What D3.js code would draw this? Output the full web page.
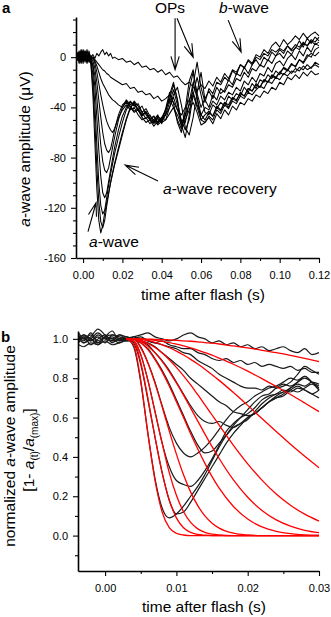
<!DOCTYPE html>
<html>
<head>
<meta charset="utf-8">
<script src="https://cdn.jsdelivr.net/npm/d3@7"></script>
<style>
  body { margin: 0; background: #fff; }
  svg { display: block; font-family: "Liberation Sans", Arial, sans-serif; }
</style>
</head>
<body>
<div id="chart"></div>
<script>
// ---------- panel a : raw a-wave traces (µV) ----------
const timeA = [-0.003, -0.002, -0.001, 0, 0.001, 0.002, 0.003, 0.004, 0.005, 0.006, 0.007, 0.008, 0.009, 0.010, 0.011, 0.012, 0.013, 0.014, 0.015, 0.016,
  0.018, 0.020, 0.022, 0.024, 0.026, 0.028, 0.030, 0.032, 0.034, 0.036, 0.038, 0.040, 0.042, 0.044, 0.046, 0.048, 0.050, 0.052, 0.054, 0.056,
  0.058, 0.060, 0.062, 0.064, 0.066, 0.068, 0.070, 0.072, 0.074, 0.076, 0.078, 0.080, 0.082, 0.084, 0.086, 0.088, 0.090, 0.092, 0.094, 0.096,
  0.098, 0.100, 0.102, 0.104, 0.106, 0.108, 0.110, 0.112, 0.114, 0.116, 0.118, 0.120];

const waveA1 = [3, -5, 6, -3, 4, -2, 2, -6, -30, -68, -105, -130, -140, -134, -124, -116, -108, -100, -93, -86,
  -74, -62, -50, -41, -35, -39, -44, -41, -47, -50, -46, -53, -44, -30,
  -20, -34, -55, -47, -26, -12, -29, -40, -33,
  -27, -33, -24, -29, -26, -18, -22, -13, -15, -8, -13, -6, -2, -7, 0, -3, 4, 1, 6, 3, 9, 5, 7, 13, 8, 15, 11, 16, 13];
const waveA2 = [-2, 4, -1, 5, -4, 1, -3, -5, -22, -52, -88, -115, -131, -136, -130, -119, -109, -100, -92, -85,
  -72, -60, -49, -40, -37, -42, -46, -43, -49, -52, -47, -51, -41, -28,
  -37, -52, -60, -41, -19, -10, -32, -46, -40,
  -42, -35, -38, -31, -34, -28, -30, -24, -27, -19, -22, -16, -20, -13, -15, -8, -12, -5, -3, -7, -1, 2, -2, 5, 1, 8, 4, 11, 9];
const waveA3 = [4, -2, 3, -5, 2, -3, 5, -2, -14, -38, -70, -100, -118, -125, -122, -112, -102, -93, -85, -77,
  -64, -52, -42, -36, -39, -37, -44, -49, -46, -52, -48, -50, -42, -33,
  -22, -34, -54, -64, -46, -22, -4, -24, -36,
  -25, -29, -20, -22, -16, -19, -11, -14, -6, -9, -2, -5, 2, 0, 6, 3, 9, 12, 8, 14, 10, 13, 17, 14, 19, 15, 18, 20, 17];
const waveA4 = [-1, 5, -4, 2, -3, 6, -2, 1, -8, -24, -48, -74, -95, -108, -112, -108, -99, -90, -81, -72,
  -58, -47, -40, -35, -38, -42, -39, -46, -50, -47, -53, -49, -46, -36,
  -26, -38, -50, -58, -50, -30, -16, -30, -44,
  -46, -38, -41, -36, -39, -31, -34, -29, -31, -24, -28, -21, -25, -18, -20, -14, -17, -11, -14, -8, -10, -5, -8, -2, -5, 0, 3, 1, 4];
const waveA5 = [2, -4, 5, -1, 3, -5, 1, -3, -6, -15, -32, -52, -70, -83, -90, -92, -88, -80, -72, -64,
  -50, -40, -34, -38, -36, -42, -47, -44, -50, -53, -49, -52, -50, -40,
  -30, -24, -38, -56, -62, -48, -28, -12, -34,
  -40, -30, -34, -25, -28, -22, -24, -17, -19, -12, -16, -9, -11, -6, -8, -2, -5, 1, 3, -1, 5, 2, 8, 6, 11, 9, 14, 12, 16];
const waveA6 = [-3, 2, -5, 4, -2, 3, -4, 0, -3, -9, -20, -34, -48, -60, -69, -74, -76, -73, -66, -58,
  -46, -38, -35, -40, -44, -42, -48, -52, -50, -55, -51, -48, -42, -34,
  -40, -50, -57, -52, -36, -20, -33, -50, -52,
  -47, -50, -42, -45, -38, -41, -35, -37, -31, -33, -28, -30, -26, -23, -25, -19, -21, -16, -18, -13, -15, -11, -12, -8, -10, -6, -9, -4, -6];
const waveA7 = [1, -3, 4, -2, 5, -1, 2, -2, 0, -5, -12, -21, -30, -38, -45, -51, -55, -58, -60, -57,
  -48, -42, -38, -42, -40, -46, -50, -48, -53, -50, -54, -51, -46, -40,
  -32, -42, -52, -46, -38, -30, -40, -50, -46,
  -43, -47, -39, -42, -36, -38, -32, -34, -29, -31, -25, -27, -22, -24, -18, -20, -14, -16, -12, -9, -11, -6, -7, -2, -4, 2, 0, 6, 8];
const waveA8 = [-2, 3, -4, 6, -1, 2, -3, 1, -1, -3, -7, -12, -17, -21, -24, -27, -30, -32, -34, -35,
  -38, -40, -36, -39, -43, -41, -46, -44, -49, -47, -52, -48, -50, -45,
  -40, -46, -54, -50, -42, -36, -44, -54, -52,
  -48, -53, -45, -49, -42, -46, -39, -42, -36, -38, -33, -35, -30, -32, -27, -29, -24, -26, -20, -22, -16, -18, -14, -17, -12, -15, -11, -14, -13];
const waveA9 = [3, -2, 5, -3, 2, -4, 1, -1, 0, -2, -4, -6, -8, -10, -11, -13, -14, -16, -17, -18,
  -20, -22, -21, -25, -24, -28, -27, -30, -29, -33, -31, -35, -33, -30,
  -36, -42, -46, -40, -34, -28, -38, -46, -50,
  -44, -47, -40, -43, -36, -40, -33, -35, -28, -31, -25, -27, -21, -24, -18, -20, -15, -17, -12, -14, -10, -13, -9, -11, -7, -10, -8, -6, -8];
const waveA10 = [-1, 4, -3, 2, 5, -2, 3, 0, 2, -1, 3, 1, 4, 6, 2, 4, 1, 3, -1, 0,
  -2, -1, -4, -3, -6, -4, -8, -7, -10, -9, -12, -10, -14, -12,
  -16, -15, -19, -22, -20, -24, -27, -22, -25,
  -19, -23, -16, -20, -13, -17, -10, -12, -6, -8, -3, -6, 0, -2, 3, 1, 6, 4, 7, 5, 9, 6, 10, 8, 12, 9, 13, 10, 12];

const tracesA = [waveA1, waveA2, waveA3, waveA4, waveA5, waveA6, waveA7, waveA8, waveA9, waveA10];

const yTicksA = [-160, -120, -80, -40, 0];
const yMinorA = [-150, -140, -130, -110, -100, -90, -70, -60, -50, -30, -20, -10, 10, 20, 30];
const xTicksA = [0, 0.02, 0.04, 0.06, 0.08, 0.10, 0.12];
const xMinorA = [0.01, 0.03, 0.05, 0.07, 0.09, 0.11];

// ---------- panel b : normalized traces and fits ----------
const timeB = [-0.0037, -0.003, -0.002, -0.001, 0, 0.001, 0.002, 0.003, 0.004, 0.005, 0.006, 0.007, 0.008, 0.009, 0.010,
  0.011, 0.012, 0.013, 0.014, 0.015, 0.016, 0.017, 0.018, 0.019, 0.020, 0.021, 0.022, 0.023, 0.024, 0.025,
  0.026, 0.027, 0.028, 0.029, 0.030];

const normB1 = [0.98, 1.01, 0.97, 1.00, 1.02, 0.98, 1.00, 1.00, 0.96, 0.78, 0.52, 0.29, 0.14, 0.09, 0.11, 0.15, 0.20, 0.25,
  0.31, 0.38, 0.45, 0.51, 0.56, 0.60, 0.64, 0.68, 0.71, 0.72, 0.75, 0.77, 0.76, 0.78, 0.80, 0.78, 0.75];
const normB2 = [1.02, 0.99, 1.03, 0.98, 1.01, 1.04, 0.99, 1.00, 0.98, 0.87, 0.69, 0.50, 0.32, 0.18, 0.11, 0.12, 0.17, 0.23,
  0.29, 0.35, 0.41, 0.47, 0.52, 0.56, 0.60, 0.62, 0.65, 0.68, 0.71, 0.73, 0.74, 0.73, 0.75, 0.77, 0.74];
const normB3 = [0.97, 0.96, 0.98, 0.97, 0.99, 0.97, 0.98, 0.99, 0.99, 0.92, 0.79, 0.63, 0.47, 0.35, 0.28, 0.26, 0.25, 0.28,
  0.33, 0.39, 0.46, 0.53, 0.57, 0.60, 0.62, 0.65, 0.69, 0.71, 0.72, 0.74, 0.73, 0.75, 0.74, 0.72, 0.70];
const normB4 = [1.00, 1.02, 0.99, 1.01, 0.98, 1.02, 1.01, 1.00, 1.00, 0.96, 0.88, 0.78, 0.66, 0.55, 0.47, 0.42, 0.40, 0.42,
  0.45, 0.49, 0.54, 0.59, 0.63, 0.66, 0.68, 0.71, 0.73, 0.75, 0.76, 0.78, 0.80, 0.79, 0.81, 0.78, 0.76];
const normB5 = [1.01, 0.98, 1.00, 1.03, 1.00, 0.99, 1.02, 1.01, 1.00, 0.98, 0.95, 0.90, 0.84, 0.77, 0.69, 0.61, 0.53, 0.46,
  0.42, 0.43, 0.47, 0.51, 0.55, 0.57, 0.59, 0.63, 0.67, 0.70, 0.72, 0.73, 0.75, 0.77, 0.76, 0.78, 0.77];
const normB6 = [0.99, 1.02, 1.00, 0.97, 1.01, 1.00, 0.98, 1.00, 1.01, 0.99, 0.97, 0.93, 0.89, 0.84, 0.78, 0.72, 0.66, 0.61,
  0.58, 0.57, 0.58, 0.56, 0.55, 0.57, 0.60, 0.62, 0.65, 0.68, 0.70, 0.71, 0.74, 0.76, 0.74, 0.72, 0.74];
const normB7 = [1.03, 1.00, 0.99, 1.02, 1.00, 1.01, 0.99, 1.00, 1.00, 0.99, 0.98, 0.96, 0.93, 0.90, 0.87, 0.84, 0.80, 0.77,
  0.74, 0.71, 0.68, 0.66, 0.63, 0.62, 0.61, 0.62, 0.65, 0.68, 0.70, 0.72, 0.75, 0.78, 0.81, 0.78, 0.74];
const normB8 = [1.00, 0.98, 1.01, 1.05, 1.02, 0.99, 1.00, 1.01, 1.00, 1.00, 0.99, 0.98, 0.97, 0.96, 0.95, 0.93, 0.92, 0.89,
  0.87, 0.85, 0.82, 0.80, 0.78, 0.76, 0.75, 0.75, 0.74, 0.76, 0.75, 0.76, 0.78, 0.82, 0.86, 0.84, 0.82];
const normB9 = [0.99, 1.01, 1.00, 0.98, 1.01, 1.02, 1.00, 0.99, 1.00, 1.01, 0.99, 0.98, 0.99, 0.97, 0.96, 0.95, 0.95, 0.93,
  0.92, 0.90, 0.89, 0.90, 0.88, 0.89, 0.87, 0.88, 0.86, 0.87, 0.86, 0.85, 0.86, 0.84, 0.85, 0.83, 0.83];
const normB10 = [1.01, 1.00, 1.02, 0.99, 1.01, 1.00, 1.02, 1.00, 1.01, 1.02, 1.03, 1.01, 1.00, 0.99, 1.00, 1.02, 1.03, 1.01,
  1.00, 0.98, 0.99, 0.97, 0.98, 0.96, 0.97, 0.95, 0.96, 0.94, 0.95, 0.96, 0.94, 0.93, 0.95, 0.92, 0.93];

const tracesB = [normB1, normB2, normB3, normB4, normB5, normB6, normB7, normB8, normB9, normB10];

const fitTime = [0.003, 0.004, 0.005, 0.006, 0.007, 0.008, 0.009, 0.010, 0.011, 0.012, 0.013, 0.014, 0.015, 0.016,
  0.018, 0.020, 0.022, 0.024, 0.026, 0.028, 0.030];

const fitB1 = [1.00, 0.97, 0.79, 0.52, 0.28, 0.12, 0.04, 0.012, 0.003, 0, 0, 0, 0, 0, 0, 0, 0, 0, 0, 0, 0];
const fitB2 = [1.00, 0.99, 0.88, 0.70, 0.50, 0.32, 0.18, 0.09, 0.04, 0.016, 0.006, 0.002, 0, 0, 0, 0, 0, 0, 0, 0, 0];
const fitB3 = [1.00, 0.99, 0.92, 0.79, 0.63, 0.47, 0.32, 0.205, 0.121, 0.067, 0.034, 0.016, 0.007, 0.003, 0, 0, 0, 0, 0, 0, 0];
const fitB4 = [1.00, 1.00, 0.954, 0.877, 0.774, 0.655, 0.531, 0.414, 0.309, 0.221, 0.152, 0.100, 0.063, 0.038, 0.012, 0.003, 0, 0, 0, 0, 0];
const fitB5 = [1.00, 1.00, 0.98, 0.945, 0.895, 0.832, 0.76, 0.68, 0.60, 0.518, 0.44, 0.367, 0.30, 0.241, 0.148, 0.084, 0.044, 0.022, 0.010, 0.004, 0.002];
const fitB6 = [1.00, 1.00, 0.987, 0.963, 0.929, 0.886, 0.834, 0.776, 0.714, 0.648, 0.582, 0.516, 0.452, 0.392, 0.283, 0.195, 0.128, 0.080, 0.048, 0.027, 0.015];
const fitB7 = [1.00, 0.999, 0.992, 0.977, 0.956, 0.928, 0.894, 0.855, 0.812, 0.766, 0.716, 0.665, 0.613, 0.561, 0.459, 0.365, 0.282, 0.211, 0.154, 0.109, 0.074];
const fitB8 = [1.00, 1.00, 0.997, 0.991, 0.982, 0.970, 0.955, 0.938, 0.918, 0.896, 0.872, 0.846, 0.818, 0.789, 0.727, 0.662, 0.595, 0.529, 0.464, 0.403, 0.345];
const fitB9 = [1.00, 1.00, 0.999, 0.996, 0.992, 0.987, 0.981, 0.973, 0.964, 0.954, 0.943, 0.930, 0.917, 0.902, 0.871, 0.836, 0.798, 0.758, 0.717, 0.674, 0.630];
const fitB10 = [1.00, 1.00, 1.00, 0.999, 0.997, 0.996, 0.995, 0.993, 0.990, 0.988, 0.985, 0.981, 0.978, 0.974, 0.964, 0.954, 0.942, 0.930, 0.916, 0.901, 0.885];

const fitsB = [fitB1, fitB2, fitB3, fitB4, fitB5, fitB6, fitB7, fitB8, fitB9, fitB10];

const yTicksB = [0, 0.2, 0.4, 0.6, 0.8, 1.0];
const yMinorB = [-0.1, 0.1, 0.3, 0.5, 0.7, 0.9];
const xTicksB = [0, 0.01, 0.02, 0.03];
const xMinorB = [0.005, 0.015, 0.025];

function drawFigure() {
    const width = 331, height = 617;
    const svg = d3.select("#chart").append("svg")
        .attr("width", width)
        .attr("height", height)
        .style("background", "white");

    const titleSize = "15.5px";

    // arrow with open V head
    function arrow(g, p0, p1) {
        const ang = Math.atan2(p1[1] - p0[1], p1[0] - p0[0]);
        const len = 14, spread = 0.3;
        const w1 = [p1[0] - len * Math.cos(ang - spread), p1[1] - len * Math.sin(ang - spread)];
        const w2 = [p1[0] - len * Math.cos(ang + spread), p1[1] - len * Math.sin(ang + spread)];
        g.append("path")
            .attr("d", `M${p0[0]},${p0[1]}L${p1[0]},${p1[1]}M${w1[0]},${w1[1]}L${p1[0]},${p1[1]}L${w2[0]},${w2[1]}`)
            .attr("fill", "none").attr("stroke", "#000").attr("stroke-width", 1.1);
    }

    function styleAxis(g) {
        g.selectAll(".domain").attr("stroke-width", 1.6).attr("stroke", "#000");
        g.selectAll(".tick line").attr("stroke", "#000").attr("stroke-width", 1.1);
        g.selectAll(".tick text").attr("font-size", "11px").attr("fill", "#000")
            .attr("font-family", "Liberation Sans, Arial, sans-serif");
    }

    // ================= panel a =================
    const xA = d3.scaleLinear().domain([-0.0036, 0.12]).range([76, 319]);
    const yA = d3.scaleLinear().domain([-160, 32]).range([258, 17]);

    const gA = svg.append("g");

    const lineA = d3.line().x((d, i) => xA(timeA[i])).y(d => yA(d));
    gA.append("g").selectAll("path").data(tracesA).join("path")
        .attr("d", lineA)
        .attr("fill", "none")
        .attr("stroke", "#000")
        .attr("stroke-width", 1.05)
        .attr("stroke-linejoin", "round");

    gA.append("g").attr("transform", "translate(76,0)")
        .call(d3.axisLeft(yA).tickValues(yMinorA).tickSize(3).tickFormat("").tickSizeOuter(0))
        .call(g => g.select(".domain").remove())
        .call(styleAxis);
    gA.append("g").attr("transform", "translate(76,0)")
        .call(d3.axisLeft(yA).tickValues(yTicksA).tickSize(5).tickPadding(5).tickSizeOuter(0).tickFormat(d => String(d)))
        .call(styleAxis);

    gA.append("g").attr("transform", "translate(0,258)")
        .call(d3.axisBottom(xA).tickValues(xMinorA).tickSize(3).tickFormat("").tickSizeOuter(0))
        .call(g => g.select(".domain").remove())
        .call(styleAxis);
    gA.append("g").attr("transform", "translate(0,258)")
        .call(d3.axisBottom(xA).tickValues(xTicksA).tickSize(5).tickPadding(8).tickSizeOuter(0).tickFormat(d3.format(".2f")))
        .call(styleAxis);

    gA.append("text").attr("x", 203).attr("y", 300)
        .attr("text-anchor", "middle").attr("font-size", titleSize)
        .text("time after flash (s)");

    const yLabA = gA.append("text")
        .attr("transform", "translate(30,149) rotate(-90)")
        .attr("text-anchor", "middle").attr("font-size", titleSize);
    yLabA.append("tspan").attr("font-style", "italic").text("a");
    yLabA.append("tspan").text("-wave amplitude (\u03BCV)");

    svg.append("text").attr("x", 2).attr("y", 13)
        .attr("font-size", "15px").attr("font-weight", "bold").text("a");

    // annotations
    gA.append("text").attr("x", 170).attr("y", 13).attr("text-anchor", "middle")
        .attr("font-size", titleSize).text("OPs");
    const bw = gA.append("text").attr("x", 244).attr("y", 13).attr("text-anchor", "middle")
        .attr("font-size", titleSize);
    bw.append("tspan").attr("font-style", "italic").text("b");
    bw.append("tspan").text("-wave");

    const rec = gA.append("text").attr("x", 163).attr("y", 194).attr("font-size", titleSize);
    rec.append("tspan").attr("font-style", "italic").text("a");
    rec.append("tspan").text("-wave recovery");

    const aw = gA.append("text").attr("x", 89).attr("y", 247).attr("font-size", titleSize);
    aw.append("tspan").attr("font-style", "italic").text("a");
    aw.append("tspan").text("-wave");

    arrow(gA, [xA(0.0468), yA(31)], [xA(0.0468), yA(-10)]);
    arrow(gA, [xA(0.0478), yA(31)], [xA(0.056), yA(0)]);
    arrow(gA, [xA(0.0738), yA(29.5)], [xA(0.0804), yA(4)]);
    arrow(gA, [xA(0.0381), yA(-98.6)], [xA(0.0214), yA(-86)]);
    arrow(gA, [xA(0.0025), yA(-139)], [xA(0.0066), yA(-116)]);

    // ================= panel b =================
    const xB = d3.scaleLinear().domain([-0.0038, 0.03]).range([78, 319]);
    const yB = d3.scaleLinear().domain([-0.18, 1.04]).range([571, 331]);

    const gB = svg.append("g");

    const lineB = d3.line().x((d, i) => xB(timeB[i])).y(d => yB(d)).curve(d3.curveMonotoneX);
    gB.append("g").selectAll("path").data(tracesB).join("path")
        .attr("d", lineB)
        .attr("fill", "none")
        .attr("stroke", "#1a1a1a")
        .attr("stroke-width", 1.2);

    const lineFit = d3.line().x((d, i) => xB(fitTime[i])).y(d => yB(d)).curve(d3.curveMonotoneX);
    gB.append("g").selectAll("path").data(fitsB).join("path")
        .attr("d", lineFit)
        .attr("fill", "none")
        .attr("stroke", "#ff0000")
        .attr("stroke-width", 1.3);

    gB.append("g").attr("transform", "translate(78,0)")
        .call(d3.axisLeft(yB).tickValues(yMinorB).tickSize(3).tickFormat("").tickSizeOuter(0))
        .call(g => g.select(".domain").remove())
        .call(styleAxis);
    gB.append("g").attr("transform", "translate(78,0)")
        .call(d3.axisLeft(yB).tickValues(yTicksB).tickSize(5).tickPadding(5).tickSizeOuter(0).tickFormat(d3.format(".1f")))
        .call(styleAxis);

    gB.append("g").attr("transform", "translate(0,571)")
        .call(d3.axisBottom(xB).tickValues(xMinorB).tickSize(3).tickFormat("").tickSizeOuter(0))
        .call(g => g.select(".domain").remove())
        .call(styleAxis);
    gB.append("g").attr("transform", "translate(0,571)")
        .call(d3.axisBottom(xB).tickValues(xTicksB).tickSize(5).tickPadding(8).tickSizeOuter(0).tickFormat(d3.format(".2f")))
        .call(styleAxis);

    gB.append("text").attr("x", 204).attr("y", 612)
        .attr("text-anchor", "middle").attr("font-size", titleSize)
        .text("time after flash (s)");

    const yLabB1 = gB.append("text")
        .attr("transform", "translate(15,446) rotate(-90)")
        .attr("text-anchor", "middle").attr("font-size", titleSize);
    yLabB1.append("tspan").text("normalized ");
    yLabB1.append("tspan").attr("font-style", "italic").text("a");
    yLabB1.append("tspan").text("-wave amplitude");

    const yLabB2 = gB.append("text")
        .attr("transform", "translate(34,450) rotate(-90)")
        .attr("text-anchor", "middle").attr("font-size", titleSize);
    yLabB2.append("tspan").text("[1- ");
    yLabB2.append("tspan").attr("font-style", "italic").text("a");
    yLabB2.append("tspan").attr("font-size", "10px").attr("dy", 4).text("(t)");
    yLabB2.append("tspan").attr("dy", -4).text("/");
    yLabB2.append("tspan").attr("font-style", "italic").text("a");
    yLabB2.append("tspan").attr("font-size", "10px").attr("dy", 4).text("(max)");
    yLabB2.append("tspan").attr("dy", -4).text("]");

    svg.append("text").attr("x", 1).attr("y", 342)
        .attr("font-size", "15px").attr("font-weight", "bold").text("b");
}

drawFigure();
</script>
</body>
</html>
